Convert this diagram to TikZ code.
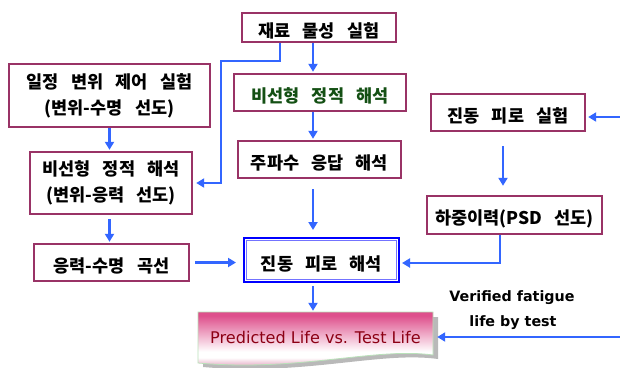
\documentclass[tikz,border=0pt]{standalone}
\usepackage{fontspec}
\usetikzlibrary{arrows.meta}
\newfontfamily\krfont[WordSpace=3.05]{Noto Sans CJK KR}
\newfontfamily\enfont{DejaVu Sans}
\definecolor{boxline}{RGB}{153,51,102}
\definecolor{flowblue}{RGB}{51,102,255}
\definecolor{darkgreen}{RGB}{20,80,20}
\definecolor{lifered}{RGB}{140,0,20}
\definecolor{lifepink}{RGB}{222,80,140}
\definecolor{lifepinklow}{RGB}{212,110,155}
\definecolor{paleframe}{RGB}{185,225,185}
\pgfdeclareverticalshading{lifeshade}{100bp}{color(0bp)=(lifepinklow); color(25bp)=(lifepinklow); color(37bp)=(white); color(42bp)=(white); color(72bp)=(lifepink); color(100bp)=(lifepink)}
\begin{document}
\begin{tikzpicture}[x=1pt,y=-1pt,
  box/.style={draw=boxline,line width=2.4pt,fill=white,inner sep=0pt,align=center,
    font=\krfont\bfseries\fontsize{17.5}{26}\selectfont,execute at begin node=\rule{0pt}{22pt}},
  tallbox/.style={box,execute at begin node=\rule{0pt}{30pt}},
  flow/.style={draw=flowblue,line width=2.4pt,-{Triangle[length=8pt,width=9pt]}},
  note/.style={font=\enfont\bfseries\fontsize{14.3}{16}\selectfont}]
\useasboundingbox (0,0) rectangle (620,367);
\node[box,minimum width=154pt,minimum height=29pt] (mat) at (319,27.5) {재료 물성 실험};
\node[tallbox,minimum width=201pt,minimum height=63pt] (dispexp) at (109.5,95.5) {일정 변위 제어 실험\\(변위-수명 선도)};
\node[box,minimum width=172pt,minimum height=37pt,text=darkgreen] (nlsa) at (320,92.5) {비선형 정적 해석};
\node[box,minimum width=154pt,minimum height=37pt] (vibexp) at (508,112.5) {진동 피로 실험};
\node[tallbox,minimum width=162pt,minimum height=62pt] (nlsb) at (111,183) {비선형 정적 해석\\(변위-응력 선도)};
\node[box,minimum width=163pt,minimum height=37pt] (freq) at (319.5,159.5) {주파수 응답 해석};
\node[box,minimum width=175pt,minimum height=38pt] (psd) at (514.5,215) {하중이력(PSD 선도)};
\node[box,minimum width=155pt,minimum height=37pt] (sn) at (111.5,262.5) {응력-수명 곡선};
\node[box,draw=blue,line width=2pt,minimum width=155pt,minimum height=44pt] (vfa) at (321.5,260) {진동 피로 해석};
\draw[blue!55,line width=1pt] ([shift={(3.5,3.5)}]vfa.north west) rectangle ([shift={(-3.5,-3.5)}]vfa.south east);
\fill[gray!55] (203,317) -- (438,317) -- (438,359) .. controls (380,351) and (305,376) .. (203,367) -- cycle;
\shade[shading=lifeshade,draw=paleframe,line width=0.8pt] (198,312) -- (433,312) -- (433,355) .. controls (375,347) and (300,372) .. (198,363) -- cycle;
\node[inner sep=0pt,minimum width=235pt,minimum height=50pt,text=lifered,font=\enfont\fontsize{16.1}{18}\selectfont] (pred) at (315.5,337) {Predicted Life vs. Test Life};
\node[note] (verified) at (512,298) {Verified fatigue};
\node[note] (bytest) at (513,323) {life by test};
\coordinate (split) at (221,61);
\coordinate (leftcol) at (109.5,0);
\coordinate (midcol) at (313,0);
\coordinate (rightcol) at (503,0);
\coordinate (psdturn) at (500,263);
\coordinate (vibin) at (620,117);
\coordinate (lifein) at (620,337);
\draw[flow,shorten >=3pt] ([xshift=-39pt]mat.south) |- (split) |- (nlsb.east);
\draw[flow,shorten >=1pt] (midcol |- mat.south) -- (midcol |- nlsa.north);
\draw[flow,shorten >=1pt] (midcol |- nlsa.south) -- (midcol |- freq.north);
\draw[flow,shorten <=10pt,shorten >=7pt] (midcol |- freq.south) -- (midcol |- vfa.north);
\draw[flow,shorten <=3pt,shorten >=1pt] (midcol |- vfa.south) -- (midcol |- pred.north);
\draw[flow,shorten >=1pt] (leftcol |- dispexp.south) -- (leftcol |- nlsb.north);
\draw[flow,shorten <=4pt,shorten >=1pt] (leftcol |- nlsb.south) -- (leftcol |- sn.north);
\draw[flow,shorten <=5pt,shorten >=7pt] (sn.east) -- (sn.east -| vfa.west);
\draw[flow,shorten >=2pt] (vibin) -- (vibin -| vibexp.east);
\draw[flow,shorten <=14pt,shorten >=9pt] (rightcol |- vibexp.south) -- (rightcol |- psd.north);
\draw[flow,shorten >=2pt] (psdturn |- psd.south) -- (psdturn) -- (psdturn -| vfa.east);
\draw[flow,shorten >=4pt] (lifein) -- (lifein -| pred.east);
\end{tikzpicture}
\end{document}
